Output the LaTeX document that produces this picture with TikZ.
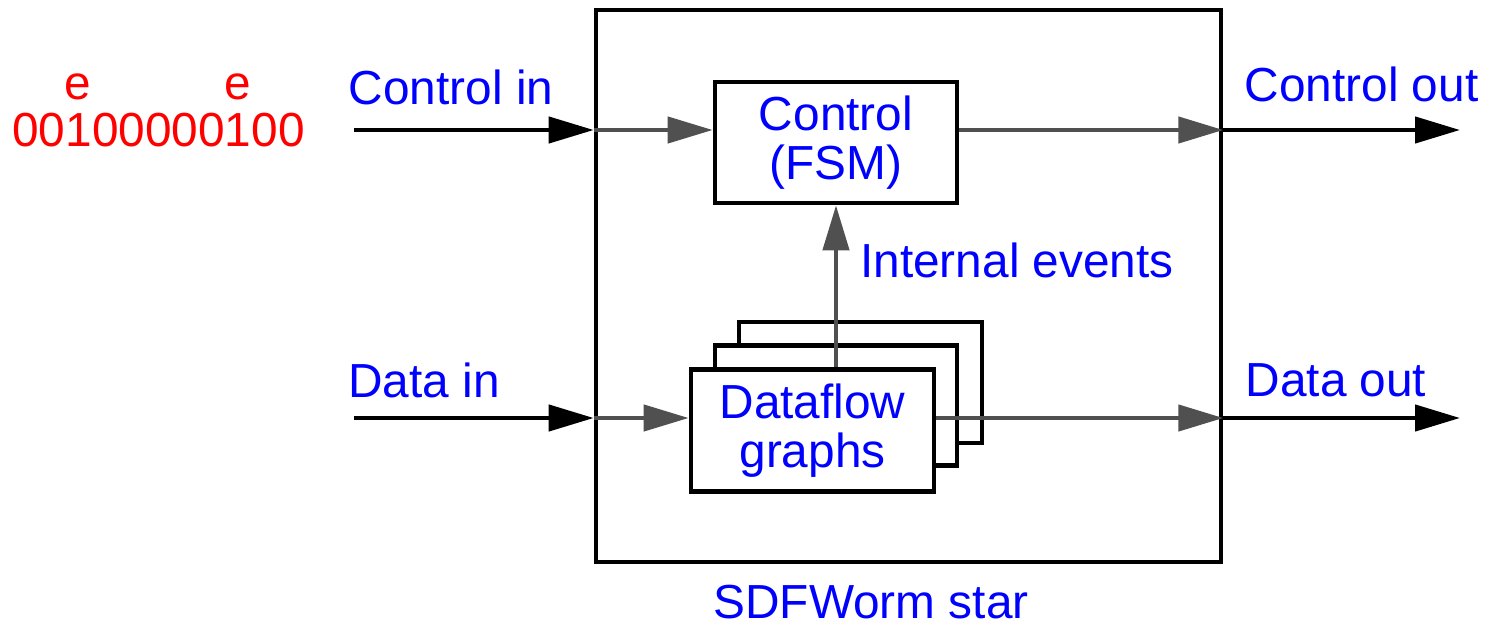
\documentclass[tikz,border=0pt]{standalone}
\usepackage{fontspec}
\setmainfont{Liberation Sans}
\usetikzlibrary{arrows.meta}
\definecolor{lblue}{RGB}{0,0,255}
\definecolor{lred}{RGB}{255,0,0}
\definecolor{lgray}{RGB}{80,80,80}
\begin{document}
\begin{tikzpicture}[x=0.02cm,y=-0.02cm,
  every node/.style={font=\fontsize{27.2}{27.6}\selectfont},
  lbl/.style={text=lblue, inner sep=0},
  redlbl/.style={text=lred, inner sep=0},
  box/.style={draw=black, line width=2.7pt, fill=white, inner sep=0, align=center, text=lblue},
  blackarrow/.style={draw=black, line width=2.5pt, -{Triangle[length=0.9cm,width=0.52cm]}},
  grayarrow/.style={draw=lgray, line width=2.5pt, -{Triangle[length=0.9cm,width=0.52cm]}},
]
\useasboundingbox (0,0) rectangle (1485,622);

% outer box
\node[box, minimum width=12.5cm, minimum height=11.04cm] (sdf) at (908.5,286) {};
% control
\node[box, minimum width=4.84cm, minimum height=2.42cm] (ctrl) at (836,142.5) {Control\\(FSM)};
% dataflow stack
\node[box, minimum width=4.86cm, minimum height=2.42cm] (back) at (860.5,382.5) {};
\node[box, minimum width=4.84cm, minimum height=2.4cm] (mid) at (836,405.5) {};
\node[box, minimum width=4.86cm, minimum height=2.44cm] (front) at (812.5,430.5) {Dataflow\\graphs};

% free ends
\coordinate (cin) at (354,130);
\coordinate (cout) at (1460,130);
\coordinate (din) at (354,418);
\coordinate (dout) at (1460,418);

% control path
\draw[blackarrow] (cin) -- (sdf.west |- cin);
\draw[grayarrow] (sdf.west |- cin) -- (ctrl.west |- cin);
\draw[grayarrow] (ctrl.east |- cin) -- (sdf.east |- cin);
\draw[blackarrow] (sdf.east |- cin) -- (cout);

% data path
\draw[blackarrow] (din) -- (sdf.west |- din);
\draw[grayarrow] (sdf.west |- din) -- (front.west |- din);
\draw[grayarrow] (front.east |- din) -- (sdf.east |- din);
\draw[blackarrow] (sdf.east |- din) -- (dout);

% internal events
\draw[grayarrow] (ctrl.south |- front.north) -- (ctrl.south);

% labels
\node[lbl] (cinl) at (451,87) {Control in};
\node[lbl] (dinl) at (424,380) {Data in};
\node[lbl] (coutl) at (1361.5,84) {Control out};
\node[lbl] (doutl) at (1336,380) {Data out};
\node[lbl] (iel) at (1017,260) {Internal events};
\node[lbl] (sdfl) at (871,602) {SDFWorm star};

\node[redlbl] (e1) at (78,87) {e};
\node[redlbl] (e2) at (238,87) {e};
\node[redlbl] (bits) at (158.5,130) {00100000100};
\end{tikzpicture}
\end{document}
